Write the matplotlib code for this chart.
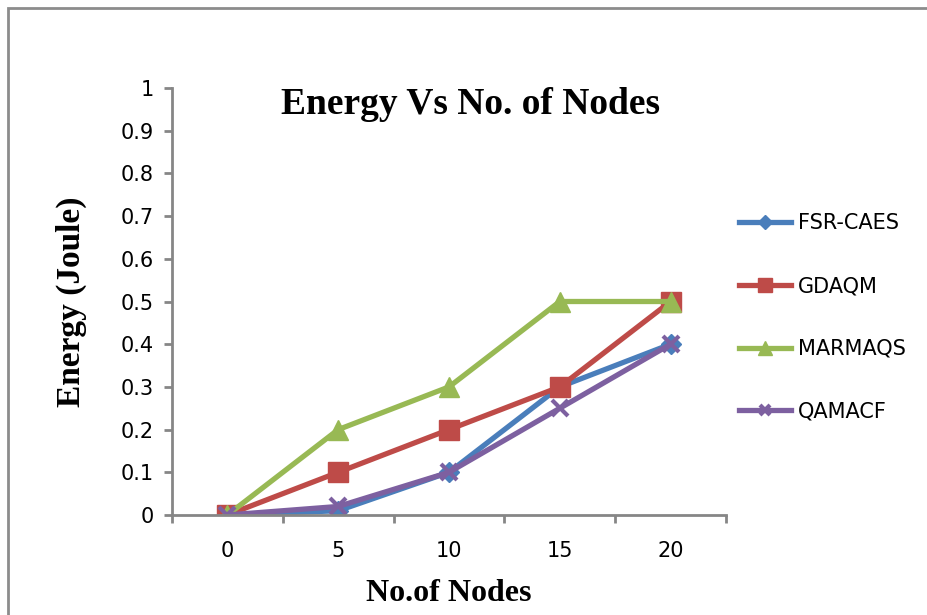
import matplotlib.pyplot as plt
from matplotlib.patches import Rectangle

nodes = ['0', '5', '10', '15', '20']
fsr_caes = [0, 0.01, 0.1, 0.3, 0.4]
gdaqm = [0, 0.1, 0.2, 0.3, 0.5]
marmaqs = [0, 0.2, 0.3, 0.5, 0.5]
qamacf = [0, 0.02, 0.1, 0.25, 0.4]

series = [
    ('FSR-CAES', fsr_caes, '#4A7EBB', 'D', 10),
    ('GDAQM', gdaqm, '#BE4B48', 's', 14),
    ('MARMAQS', marmaqs, '#98B954', '^', 15),
    ('QAMACF', qamacf, '#7D60A0', 'x', 11),
]

fig = plt.figure(figsize=(9.27, 6.15), dpi=100)
ax = fig.add_axes([172 / 927, 1 - 515 / 615, (726 - 172) / 927, (515 - 88) / 615])

# outer chart border (cropped on right and bottom like the source)
fig.patches.append(Rectangle((8 / 927, -0.05), 1.2, 1 - 8 / 615 + 0.05,
                             transform=fig.transFigure, fill=False,
                             edgecolor='#8c8c8c', linewidth=2))

x = list(range(len(nodes)))
for name, vals, col, mk, ms in series:
    ax.plot(x, vals, color=col, linewidth=3.8, marker=mk, markersize=ms,
            markeredgewidth=3 if mk == 'x' else 1, markeredgecolor=col,
            label=name, solid_joinstyle='round')

ax.set_xlim(-0.5, 4.5)
ax.set_ylim(0, 1)
ax.set_yticks([i / 10 for i in range(11)])
ax.set_yticklabels(['0', '0.1', '0.2', '0.3', '0.4', '0.5', '0.6', '0.7', '0.8', '0.9', '1'])
ax.set_xticks([i - 0.5 for i in range(6)])
ax.set_xticklabels([])
ax.set_xticks(x, minor=True)
ax.set_xticklabels(nodes, minor=True)

for s in ['top', 'right']:
    ax.spines[s].set_visible(False)
for s in ['left', 'bottom']:
    ax.spines[s].set_color('#868686')
    ax.spines[s].set_linewidth(2)
ax.tick_params(axis='both', which='major', direction='out', length=6, width=2,
               color='#868686', labelsize=15)
ax.tick_params(axis='x', which='minor', length=0, pad=19, labelsize=15)
for lab in ax.get_yticklabels() + ax.get_xticklabels(minor=True):
    lab.set_fontfamily('DejaVu Sans')
ax.tick_params(axis='y', pad=7)

ax.set_xlabel('No.of Nodes', fontfamily='Liberation Serif', fontweight='bold',
              fontsize=23, labelpad=13)
ax.set_ylabel('Energy (Joule)', fontfamily='Liberation Serif', fontweight='bold',
              fontsize=24, labelpad=24)
fig.text(470 / 927, 1 - 105 / 615, 'Energy Vs No. of Nodes', ha='center', va='center',
         fontfamily='Liberation Serif', fontweight='bold', fontsize=27)

leg = ax.legend(loc='center left', bbox_to_anchor=(0.99, 0.4625), frameon=False,
                prop={'family': 'DejaVu Sans', 'size': 15}, labelspacing=2.05,
                handlelength=2.5, handletextpad=0.3, markerscale=0.7)

fig.savefig('out.png', dpi=100)
